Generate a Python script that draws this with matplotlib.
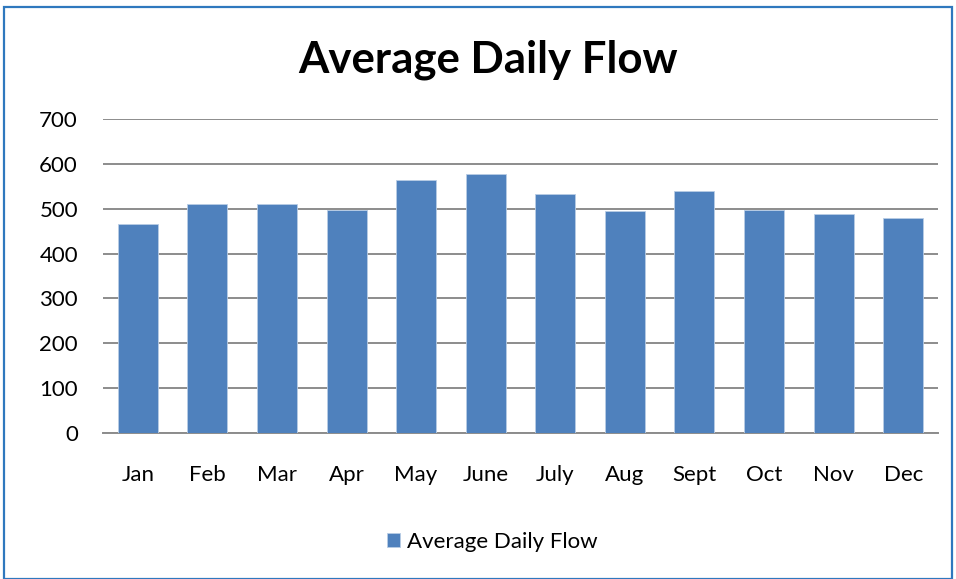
import matplotlib.pyplot as plt
from matplotlib.patches import Rectangle

months = ['Jan', 'Feb', 'Mar', 'Apr', 'May', 'June', 'July', 'Aug', 'Sept', 'Oct', 'Nov', 'Dec']
flow = [467, 511, 510, 497, 564, 577, 532, 494, 540, 497, 488, 480]
yticks = [0, 100, 200, 300, 400, 500, 600, 700]

plt.rcParams['font.family'] = ['Lato', 'DejaVu Sans']

fig = plt.figure(figsize=(9.56, 5.79), dpi=100)
ax = fig.add_axes([103 / 956, 1 - 433 / 579, 835 / 956, 314 / 579])

# outer chart border
fig.patches.append(Rectangle((4 / 956, 0), 948 / 956, 1 - 7 / 579, transform=fig.transFigure,
                             fill=False, edgecolor='#2F78BE', linewidth=1.6))

bars = ax.bar(range(len(months)), flow, width=0.575, color='#4F81BD',
              edgecolor='#B9CDE5', linewidth=0.6, label='Average Daily Flow', zorder=3)

ax.set_xlim(-0.5, len(months) - 0.5)
ax.set_ylim(0, 700)
ax.set_yticks(yticks)
ax.set_xticks(range(len(months)))
ax.set_xticklabels(months)
ax.yaxis.grid(True, color='#8C8C8C', linewidth=1.4, zorder=0)
ax.tick_params(axis='both', length=0, labelsize=16, colors='black')
ax.tick_params(axis='x', pad=23)
ax.tick_params(axis='y', pad=18)
for s in ['top', 'right', 'left']:
    ax.spines[s].set_visible(False)
ax.spines['bottom'].set_color('#8C8C8C')
ax.spines['bottom'].set_linewidth(1.4)

fig.text(488 / 956, 1 - 60 / 579, 'Average Daily Flow', ha='center', va='center',
         fontsize=31.5, fontweight='bold')

fig.legend(handles=[bars], labels=['Average Daily Flow'], loc='center',
           bbox_to_anchor=(492 / 956, 1 - 542 / 579), frameon=False, fontsize=16,
           handlelength=0.6, handleheight=0.6, handletextpad=0.3)

fig.savefig('out.png', dpi=100)
